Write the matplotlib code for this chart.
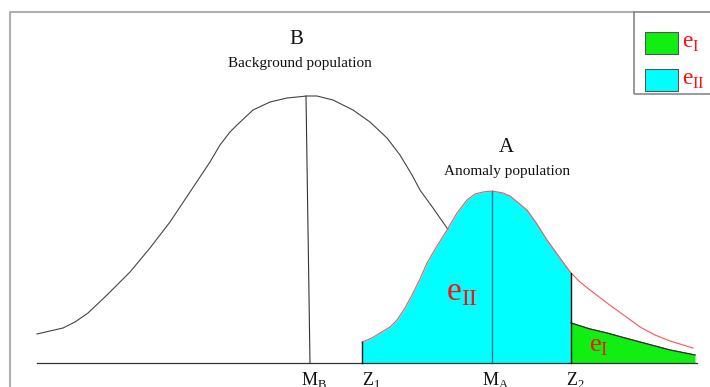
"""Sketch of background vs anomaly population with type I / II error areas."""
import matplotlib
matplotlib.use("Agg")
import matplotlib.pyplot as plt
from matplotlib.patches import Rectangle

plt.rcParams["font.family"] = ["Liberation Serif", "DejaVu Serif"]
plt.rcParams["mathtext.fontset"] = "custom"
plt.rcParams["mathtext.rm"] = "Liberation Serif"

# background population B (height above baseline)
b_x = [37, 50, 63, 75, 88, 107, 130, 150, 170, 190, 210, 220, 230, 237, 253,
       270, 287, 307, 317, 333, 353, 370, 387, 400, 412, 420, 433, 447,
       470, 500, 530, 571, 590, 607, 625, 640, 655, 670, 695]
b_y = [29, 32, 35, 41, 50, 68, 91, 115, 141, 171, 201, 218, 231, 238, 253,
       261, 265, 267, 267, 263, 253, 241, 225, 208, 188, 173, 155, 135,
       105, 80, 61, 40, 34, 30, 25, 21, 17, 13, 8]

# anomaly population A
a_x = [362, 372, 380, 390, 397, 405, 412, 420, 427, 437, 447, 457, 467, 475,
       483, 492, 503, 510, 515, 527, 537, 547, 560, 571, 580, 590, 607, 625,
       640, 655, 670, 693]
a_y = [21, 25, 30, 36, 43, 55, 68, 84, 100, 117, 133, 150, 163, 169,
       171, 172, 170, 167, 163, 153, 139, 123, 105, 90, 81, 73, 60, 47,
       36, 28, 22, 15]

# marks on the axis
m_b, z1, m_a, z2 = 308, 362, 492, 571
tick_names = [r"$\mathrm{M}_{\mathrm{B}}$", r"$\mathrm{Z}_{1}$",
              r"$\mathrm{M}_{\mathrm{A}}$", r"$\mathrm{Z}_{2}$"]
tick_pos = [301, 362, 482, 566]

CYAN = "#00ffff"
GREEN = "#11ee11"
RED = "#ff1010"

fig = plt.figure(figsize=(7.10, 3.87), dpi=100)
ax = fig.add_axes([0, 0, 1, 1])
ax.set_xlim(0, 710)
ax.set_ylim(-24, 363)
ax.axis("off")

# areas
in_ii = [(x, y) for x, y in zip(a_x, a_y) if z1 <= x <= z2]
ax.fill_between([p[0] for p in in_ii], [p[1] for p in in_ii], 0,
                color=CYAN, lw=0, zorder=2)
in_i = [(x, y) for x, y in zip(b_x, b_y) if x >= z2]
ax.fill_between([p[0] for p in in_i], [p[1] for p in in_i], 0,
                color=GREEN, lw=0, zorder=2)

# curves
ax.plot(b_x, b_y, color="#444444", lw=0.8, zorder=1)
ax.plot([p[0] for p in in_i], [p[1] for p in in_i], color="#333333", lw=0.9, zorder=3)
ax.plot(a_x, a_y, color="#ff5060", lw=0.8, zorder=3)

# baseline and verticals
ax.plot([37, 697], [0, 0], color="#333333", lw=0.9, zorder=4)
ax.plot([306, 310], [267, 0], color="#333333", lw=0.8, zorder=4)
ax.plot([m_a, m_a], [0, 172], color="#1c6f86", lw=0.9, zorder=4)
ax.plot([z1, z1], [0, 21], color="#111111", lw=1.0, zorder=4)
ax.plot([z2, z2], [0, 90], color="#111111", lw=1.0, zorder=4)

for name, x in zip(tick_names, tick_pos):
    ax.text(x, -7, name, fontsize=13, ha="left", va="top", color="#111111")

# titles
ax.text(296, 323, "B", fontsize=15, ha="center", va="center", color="#111111")
ax.text(300, 300, "Background population", fontsize=11, ha="center",
        va="center", color="#111111")
ax.text(506, 215, "A", fontsize=15, ha="center", va="center", color="#111111")
ax.text(507, 192, "Anomaly population", fontsize=11, ha="center",
        va="center", color="#111111")

# error labels
ax.text(446, 70, r"$\mathrm{e}_{\mathrm{II}}$", fontsize=24, color=RED,
        ha="left", va="center", zorder=5)
ax.text(589, 16, r"$\mathrm{e}_{\mathrm{I}}$", fontsize=19, color=RED,
        ha="left", va="center", zorder=5)

# outer frame
ax.plot([10, 10, 634], [-30, 351, 351], color="#b0b0b0", lw=1.5,
        clip_on=False, zorder=0)

# legend box
ax.add_patch(Rectangle((634, 269), 90, 82, fill=False, ec="#888888", lw=1.2,
                       clip_on=True, zorder=5))
ax.add_patch(Rectangle((645, 309), 33, 22, fc=GREEN, ec="#555555", lw=0.8, zorder=6))
ax.add_patch(Rectangle((645, 272), 33, 22, fc=CYAN, ec="#555555", lw=0.8, zorder=6))
ax.text(682, 320, r"$\mathrm{e}_{\mathrm{I}}$", fontsize=17, color=RED,
        ha="left", va="center", zorder=6)
ax.text(682, 283, r"$\mathrm{e}_{\mathrm{II}}$", fontsize=17, color=RED,
        ha="left", va="center", zorder=6)

fig.savefig("out.png", dpi=100)
